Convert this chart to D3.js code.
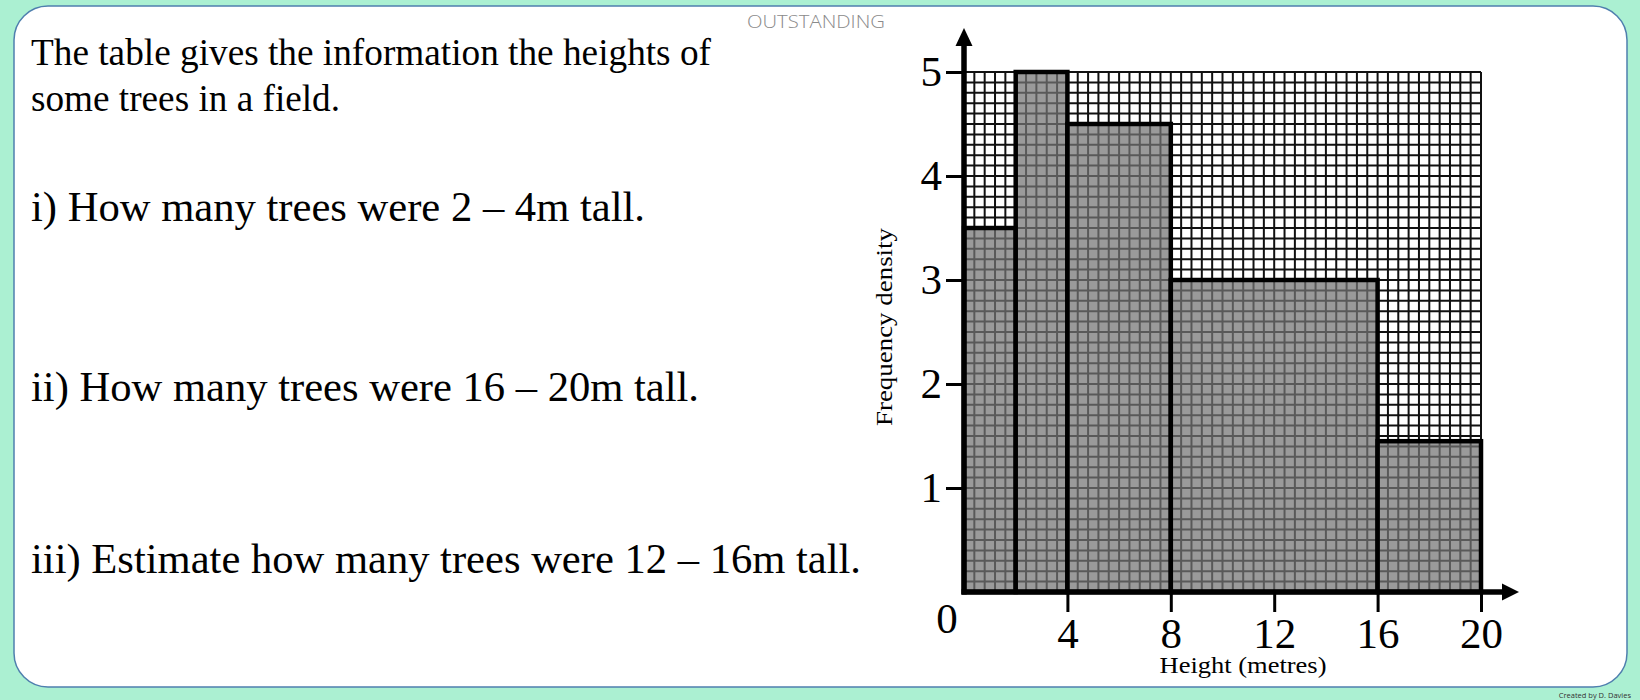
<!DOCTYPE html>
<html>
<head>
<meta charset="utf-8">
<script src="https://cdn.jsdelivr.net/npm/d3@7"></script>
<style>
  html, body { margin: 0; padding: 0; background: #abf0d2; }
  svg { display: block; }
</style>
</head>
<body>
<svg id="chart" width="1640" height="700"></svg>
<script>
// ---- data ----
const binStarts = [0, 2, 4, 8, 16];
const binEnds = [2, 4, 8, 16, 20];
const freqDensity = [3.5, 5, 4.5, 3, 1.45];
const xTickValues = [4, 8, 12, 16, 20];
const yTickValues = [1, 2, 3, 4, 5];
const introLines = ["The table gives the information the heights of", "some trees in a field."];
const questions = [
  "i) How many trees were 2 \u2013 4m tall.",
  "ii) How many trees were 16 \u2013 20m tall.",
  "iii) Estimate how many trees were 12 \u2013 16m tall."
];

const svg = d3.select("#chart");

// background card
svg.append("rect").attr("x", 0).attr("y", 0).attr("width", 1640).attr("height", 700).attr("fill", "#abf0d2");
svg.append("rect").attr("x", 14).attr("y", 6).attr("width", 1613).attr("height", 681)
  .attr("rx", 34).attr("ry", 34).attr("fill", "#ffffff").attr("stroke", "#4f7fae").attr("stroke-width", 1.5);

svg.append("text").attr("x", 747).attr("y", 28).attr("font-family", "'Open Sans', sans-serif")
  .attr("font-weight", 300).attr("font-size", 19).attr("fill", "#8a8a8a")
  .attr("textLength", 138).attr("lengthAdjust", "spacingAndGlyphs").text("OUTSTANDING");

svg.append("text").attr("x", 1631).attr("y", 698).attr("text-anchor", "end")
  .attr("font-family", "'Open Sans', sans-serif").attr("font-size", 7.5).attr("fill", "#333")
  .text("Created by D. Davies");

// left text
const introY = [65, 111], introW = [680, 309];
introLines.forEach((t, i) => {
  svg.append("text").attr("x", 31).attr("y", introY[i])
    .attr("font-family", "'Liberation Serif', 'Times New Roman', serif").attr("font-size", 37)
    .attr("fill", "#000").attr("textLength", introW[i]).attr("lengthAdjust", "spacingAndGlyphs").text(t);
});
const qY = [221, 401, 573], qW = [614, 668, 830];
questions.forEach((t, i) => {
  svg.append("text").attr("x", 31).attr("y", qY[i])
    .attr("font-family", "'Liberation Serif', 'Times New Roman', serif").attr("font-size", 42)
    .attr("fill", "#000").attr("textLength", qW[i]).attr("lengthAdjust", "spacingAndGlyphs").text(t);
});

// ---- chart ----
const x = d3.scaleLinear().domain([0, 20]).range([964, 1481]);
const y = d3.scaleLinear().domain([0, 5]).range([592, 72]);

// grid (0.4 m by 0.1 density squares)
const gx = d3.range(51).map(i => i * 0.4);
const gy = d3.range(51).map(i => i * 0.1);
const grid = svg.append("g").attr("stroke", "#111").attr("stroke-width", 2);
grid.selectAll("line.v").data(gx).join("line").attr("class", "v")
  .attr("x1", d => x(d)).attr("x2", d => x(d)).attr("y1", y(0)).attr("y2", y(5));
grid.selectAll("line.h").data(gy).join("line").attr("class", "h")
  .attr("y1", d => y(d)).attr("y2", d => y(d)).attr("x1", x(0)).attr("x2", x(20));

// bars
const bars = binStarts.map((s, i) => ({ s, e: binEnds[i], v: freqDensity[i] }));
svg.append("g").selectAll("rect").data(bars).join("rect")
  .attr("x", d => x(d.s)).attr("width", d => x(d.e) - x(d.s))
  .attr("y", d => y(d.v)).attr("height", d => y(0) - y(d.v))
  .attr("fill", "#747474").attr("fill-opacity", 0.73)
  .attr("stroke", "#000").attr("stroke-width", 4.5);

// axes
const fontSerif = "'Liberation Serif', 'Times New Roman', serif";
const xAxis = svg.append("g").attr("transform", `translate(0,${y(0)})`)
  .call(d3.axisBottom(x).tickValues(xTickValues).tickSize(20).tickPadding(5).tickFormat(d3.format("d")));
xAxis.select(".domain").remove();
xAxis.selectAll(".tick line").attr("stroke", "#000").attr("stroke-width", 3);
xAxis.selectAll(".tick text").attr("font-family", fontSerif).attr("font-size", 43).attr("fill", "#000");

const yAxis = svg.append("g").attr("transform", `translate(${x(0)},0)`)
  .call(d3.axisLeft(y).tickValues(yTickValues).tickSize(18).tickPadding(4).tickFormat(d3.format("d")));
yAxis.select(".domain").remove();
yAxis.selectAll(".tick line").attr("stroke", "#000").attr("stroke-width", 3);
yAxis.selectAll(".tick text").attr("font-family", fontSerif).attr("font-size", 43).attr("fill", "#000");

// axis lines with arrows
svg.append("line").attr("x1", x(0)).attr("x2", x(0)).attr("y1", y(0) + 2.5).attr("y2", y(5) - 26)
  .attr("stroke", "#000").attr("stroke-width", 5.5);
svg.append("path").attr("d", `M${x(0) - 8.5},${y(5) - 26} L${x(0) + 8.5},${y(5) - 26} L${x(0)},${y(5) - 44} Z`).attr("fill", "#000");
svg.append("line").attr("x1", x(0) - 2.5).attr("x2", x(20) + 21).attr("y1", y(0)).attr("y2", y(0))
  .attr("stroke", "#000").attr("stroke-width", 5.5);
svg.append("path").attr("d", `M${x(20) + 21},${y(0) - 8.5} L${x(20) + 21},${y(0) + 8.5} L${x(20) + 38},${y(0)} Z`).attr("fill", "#000");

svg.append("text").attr("x", x(0) - 17).attr("y", 633).attr("text-anchor", "middle")
  .attr("font-family", fontSerif).attr("font-size", 43).text("0");

// axis titles
svg.append("text").attr("x", 1243).attr("y", 673).attr("text-anchor", "middle")
  .attr("font-family", fontSerif).attr("font-size", 24)
  .attr("textLength", 167).attr("lengthAdjust", "spacingAndGlyphs").text("Height (metres)");
svg.append("text").attr("transform", "translate(892,327) rotate(-90)").attr("text-anchor", "middle")
  .attr("font-family", fontSerif).attr("font-size", 23)
  .attr("textLength", 198).attr("lengthAdjust", "spacingAndGlyphs").text("Frequency density");
</script>
</body>
</html>
